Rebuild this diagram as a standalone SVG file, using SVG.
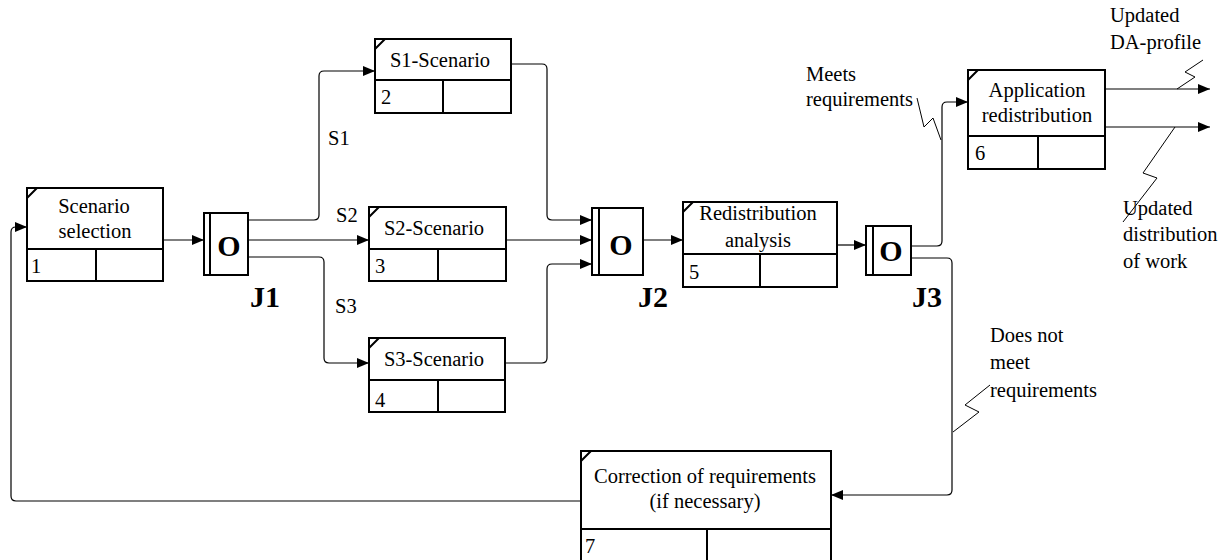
<svg xmlns="http://www.w3.org/2000/svg" width="1226" height="560" viewBox="0 0 1226 560">
  <defs>
    <marker id="arrow" markerUnits="userSpaceOnUse" markerWidth="12" markerHeight="10" refX="12" refY="5" orient="auto">
      <path d="M0,0 L12,5 L0,10 z" fill="#000"/>
    </marker>
    <style>
      .box { fill: #fff; stroke: #000; stroke-width: 2; }
      .ln { stroke: #000; stroke-width: 2; fill: none; }
      .conn { fill: none; stroke: #000; stroke-width: 1.2; }
      .zz { fill: none; stroke: #000; stroke-width: 1; }
      .t { font-family: "Liberation Serif", "Times New Roman", serif; font-size: 20.5px; fill: #000; }
      .c { text-anchor: middle; }
      .jb { font-family: "Liberation Serif", "Times New Roman", serif; font-weight: bold; font-size: 30px; fill: #000; }
    </style>
  </defs>
  <rect width="1226" height="560" fill="#fff"/>

  <!-- connectors -->
  <g id="connectors">
    <path class="conn" d="M163,240 H204" marker-end="url(#arrow)"/>
    <path class="conn" d="M248,220 H314 Q319,220 319,215 V76 Q319,71 324,71 H375" marker-end="url(#arrow)"/>
    <path class="conn" d="M248,240 H369" marker-end="url(#arrow)"/>
    <path class="conn" d="M248,257 H319 Q324,257 324,262 V358 Q324,363 329,363 H369" marker-end="url(#arrow)"/>
    <path class="conn" d="M511,64 H542 Q547,64 547,69 V215 Q547,220 552,220 H592" marker-end="url(#arrow)"/>
    <path class="conn" d="M506,240 H592" marker-end="url(#arrow)"/>
    <path class="conn" d="M505,363 H542 Q547,363 547,358 V269 Q547,264 552,264 H592" marker-end="url(#arrow)"/>
    <path class="conn" d="M643,240 H683" marker-end="url(#arrow)"/>
    <path class="conn" d="M837,245 H866" marker-end="url(#arrow)"/>
    <path class="conn" d="M911,246 H937 Q942,246 942,241 V107 Q942,102 947,102 H968" marker-end="url(#arrow)"/>
    <path class="conn" d="M911,258 H947 Q952,258 952,263 V490 Q952,495 947,495 H831" marker-end="url(#arrow)"/>
    <path class="conn" d="M1105,89 H1210" marker-end="url(#arrow)"/>
    <path class="conn" d="M1105,127 H1210" marker-end="url(#arrow)"/>
    <path class="conn" d="M581,501 H16 Q11,501 11,496 V232 Q11,227 16,227 H27" marker-end="url(#arrow)"/>

    <!-- label leaders -->
    <path class="zz" d="M917,98 L924,127 L933,118 L941,140"/>
    <path class="zz" d="M1203,60 L1185,72 L1195,77 L1177,89"/>
    <path class="zz" d="M1175,127 L1143,173 L1157,178 L1123,222"/>
    <path class="zz" d="M990,385 L965,405 L979,412 L953,432"/>

    <text class="t" x="328" y="145">S1</text>
    <text class="t" x="336" y="222">S2</text>
    <text class="t" x="335" y="313">S3</text>
    <text class="t" x="806" y="81">Meets</text>
    <text class="t" x="806" y="106">requirements</text>
    <text class="t" x="1110" y="22">Updated</text>
    <text class="t" x="1110" y="49">DA-profile</text>
    <text class="t" x="1123" y="215">Updated</text>
    <text class="t" x="1123" y="241">distribution</text>
    <text class="t" x="1123" y="268">of work</text>
    <text class="t" x="990" y="342">Does not</text>
    <text class="t" x="990" y="369">meet</text>
    <text class="t" x="990" y="397">requirements</text>
  </g>

  <!-- node 1 -->
  <g id="node1">
    <rect class="box" x="27" y="188" width="136" height="93"/>
    <path class="ln" d="M27,249 H163 M96,249 V281 M27,198 L37,188"/>
    <text class="t c" x="94" y="213">Scenario</text>
    <text class="t c" x="95" y="238">selection</text>
    <text class="t" x="31" y="273">1</text>
  </g>

  <!-- node 2 -->
  <g id="node2">
    <rect class="box" x="375" y="39" width="136" height="74"/>
    <path class="ln" d="M375,80 H511 M443,80 V113 M375,49 L385,39"/>
    <text class="t c" x="440" y="67">S1-Scenario</text>
    <text class="t" x="381" y="104">2</text>
  </g>

  <!-- node 3 -->
  <g id="node3">
    <rect class="box" x="369" y="207" width="137" height="74"/>
    <path class="ln" d="M369,249 H506 M438,249 V281 M369,217 L379,207"/>
    <text class="t c" x="434" y="235">S2-Scenario</text>
    <text class="t" x="375" y="273">3</text>
  </g>

  <!-- node 4 -->
  <g id="node4">
    <rect class="box" x="369" y="338" width="136" height="74"/>
    <path class="ln" d="M369,380 H505 M438,380 V412 M369,348 L379,338"/>
    <text class="t c" x="434" y="366">S3-Scenario</text>
    <text class="t" x="375" y="407">4</text>
  </g>

  <!-- node 5 -->
  <g id="node5">
    <rect class="box" x="683" y="202" width="154" height="85"/>
    <path class="ln" d="M683,254 H837 M760,254 V287 M683,212 L693,202"/>
    <text class="t c" x="758" y="220">Redistribution</text>
    <text class="t c" x="758" y="247">analysis</text>
    <text class="t" x="689" y="279">5</text>
  </g>

  <!-- node 6 -->
  <g id="node6">
    <rect class="box" x="968" y="70" width="137" height="99"/>
    <path class="ln" d="M968,136 H1105 M1038,136 V169 M968,80 L978,70"/>
    <text class="t c" x="1037" y="97">Application</text>
    <text class="t c" x="1037" y="122">redistribution</text>
    <text class="t" x="975" y="160">6</text>
  </g>

  <!-- node 7 -->
  <g id="node7">
    <rect class="box" x="581" y="451" width="250" height="113"/>
    <path class="ln" d="M581,529 H831 M707,529 V564 M581,461 L591,451"/>
    <text class="t c" x="705" y="483">Correction of requirements</text>
    <text class="t c" x="705" y="508">(if necessary)</text>
    <text class="t" x="585" y="553">7</text>
  </g>

  <!-- junction J1 -->
  <g id="J1">
    <rect class="box" x="204" y="213" width="44" height="62"/>
    <path class="ln" d="M210,213 V275"/>
    <text class="jb c" x="229" y="256">O</text>
    <text class="jb" x="250" y="307">J1</text>
  </g>

  <!-- junction J2 -->
  <g id="J2">
    <rect class="box" x="592" y="208" width="51" height="67"/>
    <path class="ln" d="M599,208 V275"/>
    <text class="jb c" x="621" y="255">O</text>
    <text class="jb" x="638" y="307">J2</text>
  </g>

  <!-- junction J3 -->
  <g id="J3">
    <rect class="box" x="866" y="226" width="45" height="49"/>
    <path class="ln" d="M873,226 V275"/>
    <text class="jb c" x="891" y="261">O</text>
    <text class="jb" x="912" y="307">J3</text>
  </g>
</svg>
